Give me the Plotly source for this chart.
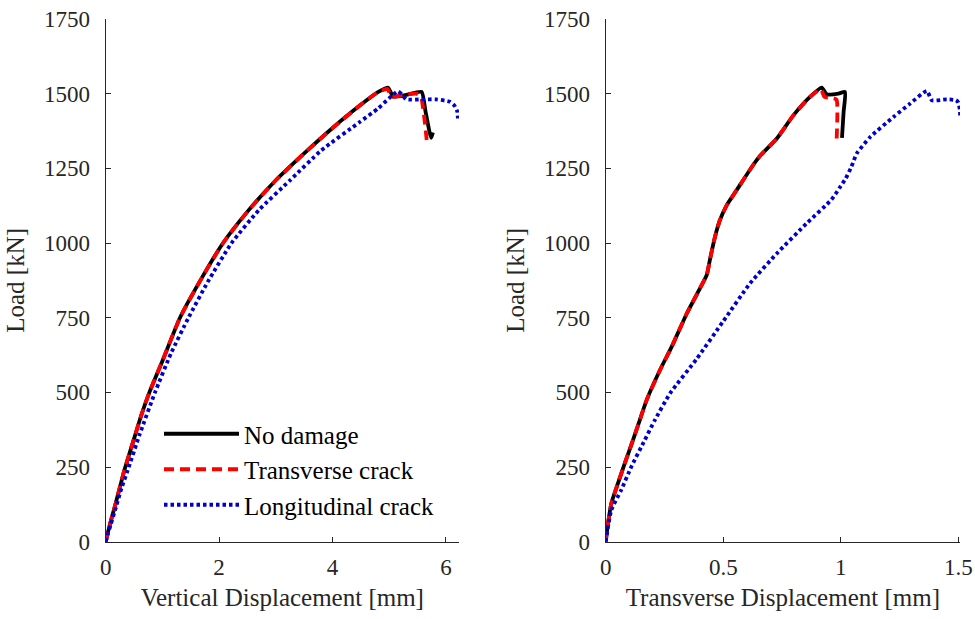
import plotly.graph_objects as go

# ---------------- data ----------------
# Left panel: Load vs vertical displacement
v_nodmg_x = [0, 0.04, 0.08, 0.16, 0.25, 0.33, 0.5, 0.63, 0.77, 1.0, 1.31, 1.7, 2.07, 2.5,
             3.0, 3.5, 4.0, 4.48, 4.8, 4.98, 5.07, 5.3, 5.57, 5.64, 5.71, 5.74, 5.77]
v_nodmg_y = [0, 32, 62, 117, 182, 240, 345, 425, 500, 605, 750, 885, 1000, 1105,
             1210, 1300, 1385, 1460, 1505, 1520, 1490, 1496, 1506, 1440, 1372, 1352, 1370]

v_trans_x = [0, 0.04, 0.08, 0.16, 0.25, 0.33, 0.5, 0.63, 0.77, 1.0, 1.31, 1.7, 2.07, 2.5,
             3.0, 3.5, 4.0, 4.48, 4.8, 4.97, 5.04, 5.24, 5.48, 5.56, 5.59, 5.63, 5.66]
v_trans_y = [0, 32, 62, 117, 182, 240, 345, 425, 500, 605, 750, 885, 1000, 1105,
             1210, 1300, 1385, 1460, 1505, 1516, 1489, 1496, 1500, 1490, 1460, 1400, 1345]

v_long_x = [0, 0.045, 0.09, 0.18, 0.28, 0.39, 0.6, 0.87, 1.15, 1.46, 1.8, 2.22, 2.7, 3.25,
            3.8, 4.48, 4.8, 5.0, 5.15, 5.22, 5.3, 5.6, 5.83, 6.07, 6.15, 6.2, 6.21]
v_long_y = [0, 30, 58, 115, 180, 240, 360, 500, 630, 750, 870, 1000, 1110, 1210,
            1310, 1405, 1450, 1485, 1508, 1498, 1481, 1481, 1481, 1473, 1460, 1440, 1417]

# Right panel: Load vs transverse displacement
t_nodmg_x = [0, 0.01, 0.024, 0.052, 0.081, 0.116, 0.145, 0.174, 0.231, 0.281, 0.345, 0.401,
             0.43, 0.443, 0.465, 0.486, 0.515, 0.557, 0.628, 0.657, 0.728, 0.799, 0.869,
             0.919, 0.94, 0.99, 1.018, 1.012, 1.005]
t_nodmg_y = [0, 62, 128, 195, 262, 340, 407, 474, 575, 653, 764, 848,
             893, 943, 1021, 1077, 1127, 1177, 1262, 1292, 1350, 1428, 1489,
             1520, 1498, 1500, 1506, 1440, 1352]

t_trans_x = [0, 0.01, 0.024, 0.052, 0.081, 0.116, 0.145, 0.174, 0.231, 0.281, 0.345, 0.401,
             0.43, 0.443, 0.465, 0.486, 0.515, 0.557, 0.628, 0.657, 0.728, 0.799, 0.869,
             0.915, 0.93, 0.965, 0.982, 0.982]
t_trans_y = [0, 62, 128, 195, 262, 340, 407, 474, 575, 653, 764, 848,
             893, 943, 1021, 1077, 1127, 1177, 1262, 1292, 1350, 1428, 1489,
             1515, 1490, 1485, 1480, 1340]

t_long_x = [0, 0.024, 0.066, 0.109, 0.166, 0.209, 0.274, 0.387, 0.5, 0.614, 0.728, 0.855,
            0.96, 0.995, 1.02, 1.045, 1.068, 1.125, 1.224, 1.295, 1.366, 1.387, 1.451,
            1.49, 1.5, 1.507, 1.507]
t_long_y = [0, 106, 173, 251, 340, 407, 497, 612, 738, 865, 965, 1066,
            1145, 1185, 1215, 1255, 1300, 1355, 1422, 1467, 1509, 1478, 1481,
            1478, 1470, 1440, 1417]

series_names = ["No damage", "Transverse crack", "Longitudinal crack"]
y_ticks = [0, 250, 500, 750, 1000, 1250, 1500, 1750]
x_ticks_left = [0, 2, 4, 6]
x_ticks_right = [0, 0.5, 1, 1.5]
x_ticks_right_text = ["0", "0.5", "1", "1.5"]

# ---------------- styling ----------------
FONT = "Liberation Serif, Times New Roman, serif"
AX = "#262626"
LW = 3.8
styles = [
    dict(color="#000000", width=LW, dash="solid", shape="spline", smoothing=0.5),
    dict(color="#ff0000", width=LW, dash="10px,6px", shape="spline", smoothing=0.5),
    dict(color="#0000cc", width=LW, dash="3.5px,3px", shape="spline", smoothing=0.5),
]

fig = go.Figure()
left = [(v_nodmg_x, v_nodmg_y), (v_trans_x, v_trans_y), (v_long_x, v_long_y)]
right = [(t_nodmg_x, t_nodmg_y), (t_trans_x, t_trans_y), (t_long_x, t_long_y)]
for (x, y), name, st in zip(left, series_names, styles):
    fig.add_trace(go.Scatter(x=x, y=y, mode="lines", name=name, line=st,
                             xaxis="x", yaxis="y", showlegend=True))
for (x, y), name, st in zip(right, series_names, styles):
    fig.add_trace(go.Scatter(x=x, y=y, mode="lines", name=name, line=st,
                             xaxis="x2", yaxis="y2", showlegend=False))

W, H = 975, 619
TICK_SIZE = 23
TITLE_SIZE = 25
common_axis = dict(
    showline=True, linecolor=AX, linewidth=1.2, mirror=False,
    ticks="inside", ticklen=5, tickwidth=1.2, tickcolor=AX,
    showgrid=False, zeroline=False, automargin=False,
    tickfont=dict(family=FONT, size=TICK_SIZE, color=AX),
)
ydom = [1 - 541.7 / H, 1 - 19 / H]
title_font = dict(family=FONT, size=TITLE_SIZE, color=AX)

fig.update_layout(
    width=W, height=H,
    margin=dict(l=0, r=0, t=0, b=0, autoexpand=False),
    paper_bgcolor="white", plot_bgcolor="white",
    font=dict(family=FONT, size=TICK_SIZE, color=AX),
    xaxis=dict(common_axis, domain=[105.7 / W, 459 / W], range=[0, 6.23],
               tickvals=x_ticks_left, anchor="y", ticklabelstandoff=5,
               title=dict(text="Vertical Displacement [mm]", standoff=9, font=title_font)),
    yaxis=dict(common_axis, domain=ydom, range=[0, 1750], tickvals=y_ticks,
               anchor="x", ticklabelstandoff=10,
               title=dict(text="Load [kN]", standoff=12, font=title_font)),
    xaxis2=dict(common_axis, domain=[605.7 / W, 960 / W], range=[0, 1.507],
                tickvals=x_ticks_right, ticktext=x_ticks_right_text, anchor="y2",
                ticklabelstandoff=5,
                title=dict(text="Transverse Displacement [mm]", standoff=9, font=title_font)),
    yaxis2=dict(common_axis, domain=ydom, range=[0, 1750], tickvals=y_ticks,
                anchor="x2", ticklabelstandoff=10,
                title=dict(text="Load [kN]", standoff=12, font=title_font)),
    legend=dict(x=159 / W, y=1 - 411 / H, xanchor="left", yanchor="top",
                bgcolor="rgba(0,0,0,0)", borderwidth=0, itemwidth=75,
                font=dict(family=FONT, size=25, color="#000000"),
                tracegroupgap=0),
)

fig.write_html("out.html")
